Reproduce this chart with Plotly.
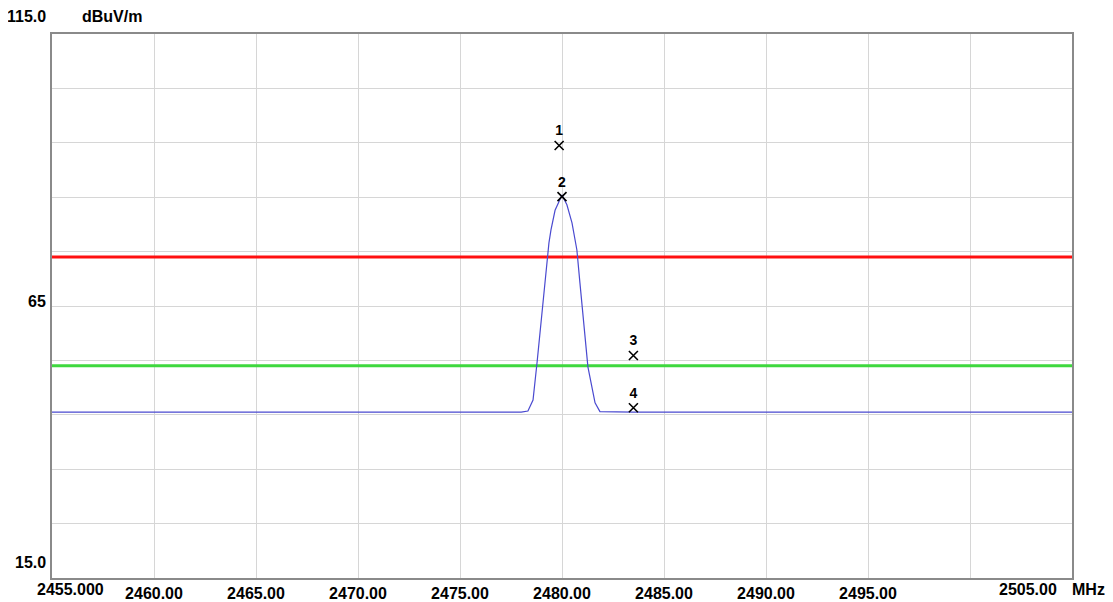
import plotly.graph_objects as go

# spectrum trace (MHz, dBuV/m)
freq = [2455.0, 2460.0, 2467.4, 2470.0, 2475.0, 2478.0, 2478.33, 2478.58, 2478.78,
        2479.02, 2479.22, 2479.36, 2479.46, 2479.66, 2480.0, 2480.24, 2480.49,
        2480.73, 2480.88, 2481.08, 2481.27, 2481.62, 2481.86, 2483.5, 2487.0,
        2489.5, 2495.0, 2500.0, 2505.0]
level = [45.5, 45.5, 45.6, 45.5, 45.5, 45.5, 45.7, 47.7, 54.7,
         64.3, 72.4, 76.6, 79.0, 82.6, 85.4, 83.6, 80.3,
         75.3, 69.2, 61.1, 53.8, 47.2, 45.6, 45.5, 45.5,
         45.6, 45.5, 45.5, 45.5]

limit_peak = 74.0
limit_avg = 54.0

marker_freq = [2479.86, 2480.0, 2483.5, 2483.5]
marker_level = [94.5, 85.1, 55.9, 46.3]
marker_names = ["1", "2", "3", "4"]

x_ticks = [2455, 2460, 2465, 2470, 2475, 2480, 2485, 2490, 2495, 2500, 2505]
x_labels = ["", "2460.00", "2465.00", "2470.00", "2475.00", "2480.00",
            "2485.00", "2490.00", "2495.00", "", ""]
y_labels = {115: "115.0", 65: "65", 15: "15.0"}

FONT = "Liberation Sans, Arial, sans-serif"

fig = go.Figure()

fig.add_trace(go.Scatter(x=[2455, 2505], y=[limit_peak, limit_peak], mode="lines",
                         line=dict(color="#ff1010", width=3), hoverinfo="skip"))
fig.add_trace(go.Scatter(x=[2455, 2505], y=[limit_avg, limit_avg], mode="lines",
                         line=dict(color="#3ed83e", width=3), hoverinfo="skip"))
fig.add_trace(go.Scatter(x=freq, y=level, mode="lines",
                         line=dict(color="#4a4ad0", width=1.2)))
fig.add_trace(go.Scatter(x=marker_freq, y=marker_level, mode="markers+text",
                         marker=dict(symbol="x-thin", size=9, color="black",
                                     line=dict(width=1.6, color="black")),
                         text=marker_names, textposition="top center",
                         textfont=dict(family=FONT, size=14, color="black", weight="bold")))

# y axis value labels sit beside the axis, a bit above their gridline
for v, t in y_labels.items():
    fig.add_annotation(x=0, xref="paper", y=v, yref="y", text=t, showarrow=False,
                       xanchor="right", xshift=-4, yshift=5 if v == 65 else (18 if v == 115 else 16),
                       font=dict(family=FONT, size=16, color="black", weight="bold"))
fig.add_annotation(x=0, xref="paper", y=115, yref="y", text="dBuV/m", showarrow=False,
                   xanchor="left", xshift=28, yshift=18,
                   font=dict(family=FONT, size=16, color="black", weight="bold"))

# end labels of the frequency axis
fig.add_annotation(x=2455, xref="x", y=0, yref="paper", text="2455.000", showarrow=False,
                   xanchor="left", yanchor="top", xshift=-17, yshift=-1,
                   font=dict(family=FONT, size=16, color="black", weight="bold"))
fig.add_annotation(x=2505, xref="x", y=0, yref="paper", text="2505.00", showarrow=False,
                   xanchor="right", yanchor="top", xshift=-13, yshift=-1,
                   font=dict(family=FONT, size=16, color="black", weight="bold"))
fig.add_annotation(x=2505, xref="x", y=0, yref="paper", text="MHz", showarrow=False,
                   xanchor="left", yanchor="top", xshift=-2, yshift=-1,
                   font=dict(family=FONT, size=16, color="black", weight="bold"))

fig.update_xaxes(range=[2455, 2505], tickvals=x_ticks, ticktext=x_labels,
                 showgrid=True, gridcolor="#d6d6d6", gridwidth=1,
                 showline=True, linecolor="#8a8a8a", linewidth=2, mirror=True,
                 ticks="", zeroline=False, automargin=False,
                 tickfont=dict(family=FONT, size=16, color="black", weight="bold"))
fig.update_yaxes(range=[15, 115], dtick=10, tick0=15, showticklabels=False,
                 showgrid=True, gridcolor="#d6d6d6", gridwidth=1,
                 showline=True, linecolor="#8a8a8a", linewidth=2, mirror=True,
                 ticks="", zeroline=False, automargin=False)

# page body keeps its 8px margin, so the figure is sized to fit inside the window
fig.update_layout(width=1105, height=594, showlegend=False,
                  plot_bgcolor="white", paper_bgcolor="white",
                  margin=dict(l=44, r=41, t=26, b=24))

fig.write_html("out.html")
